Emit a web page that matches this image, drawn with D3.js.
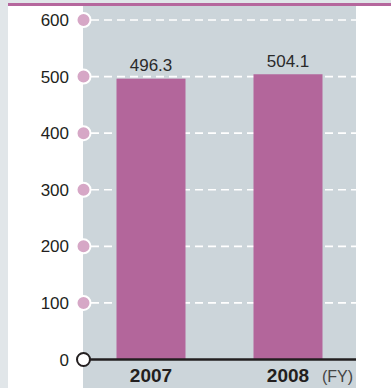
<!DOCTYPE html>
<html>
<head>
<meta charset="utf-8">
<script src="https://d3js.org/d3.v7.min.js"></script>
<style>
  body { margin: 0; background: #fff; }
  svg { display: block; font-family: "Liberation Sans", Arial, sans-serif; }
</style>
</head>
<body>
<svg width="391" height="388"></svg>
<script>
var years = ["2007", "2008"];
var sales = [496.3, 504.1];
var ticks = [0, 100, 200, 300, 400, 500, 600];

var svg = d3.select("svg");
var W = 391, H = 388;
var panelLeft = 83, panelRight = 356;

// frame: grey strips, magenta rule, grey plot panel
svg.append("rect").attr("width", W).attr("height", H).attr("fill", "#fff");
svg.append("rect").attr("width", 8).attr("height", H).attr("fill", "#e1e6e9");
svg.append("rect").attr("width", W).attr("height", 3).attr("fill", "#e1e6e9");
svg.append("rect").attr("x", 8).attr("y", 3).attr("width", W - 8).attr("height", 3).attr("fill", "#b5679d");
svg.append("rect").attr("x", panelLeft).attr("y", 6).attr("width", panelRight - panelLeft)
  .attr("height", H - 6).attr("fill", "#ccd5da");

var y = d3.scaleLinear().domain([0, 600]).range([359.5, 20]);
// bar centres
var xc = d3.scalePoint().domain(years).range([151, 288]);
var barW = 69;

// gridlines
svg.append("g").selectAll("line")
  .data(ticks.filter(function(d) { return d > 0; }))
  .enter().append("line")
  .attr("x1", panelLeft + 8).attr("x2", panelRight)
  .attr("y1", function(d) { return y(d); })
  .attr("y2", function(d) { return y(d); })
  .attr("stroke", "#fff").attr("stroke-width", 1.6)
  .attr("stroke-dasharray", "8,5");

// bars
svg.append("g").selectAll("rect")
  .data(sales)
  .enter().append("rect")
  .attr("x", function(d, i) { return xc(years[i]) - barW / 2; })
  .attr("y", function(d) { return y(d); })
  .attr("width", barW)
  .attr("height", function(d) { return y(0) - y(d); })
  .attr("fill", "#b3669b");

// value labels
svg.append("g").selectAll("text")
  .data(sales)
  .enter().append("text")
  .attr("x", function(d, i) { return xc(years[i]); })
  .attr("y", function(d) { return y(d) - 7.5; })
  .attr("text-anchor", "middle")
  .attr("font-size", 17)
  .attr("fill", "#2a2a2a")
  .text(function(d) { return d.toFixed(1); });

// baseline
svg.append("line")
  .attr("x1", panelLeft).attr("x2", panelRight)
  .attr("y1", y(0)).attr("y2", y(0))
  .attr("stroke", "#231f20").attr("stroke-width", 2.5);

// tick circles
svg.append("g").selectAll("circle")
  .data(ticks)
  .enter().append("circle")
  .attr("cx", panelLeft + 0.5)
  .attr("cy", function(d) { return y(d); })
  .attr("r", function(d) { return d === 0 ? 6.5 : 7; })
  .attr("fill", function(d) { return d === 0 ? "#fff" : "#d6a7c6"; })
  .attr("stroke", function(d) { return d === 0 ? "#231f20" : "#fff"; })
  .attr("stroke-width", 2);

// tick labels
svg.append("g").selectAll("text")
  .data(ticks)
  .enter().append("text")
  .attr("x", 69)
  .attr("y", function(d) { return y(d); })
  .attr("dy", "0.36em")
  .attr("text-anchor", "end")
  .attr("font-size", 17)
  .attr("fill", "#231f20")
  .text(function(d) { return d; });

// category labels
svg.append("g").selectAll("text")
  .data(years)
  .enter().append("text")
  .attr("x", function(d) { return xc(d); })
  .attr("y", 382)
  .attr("text-anchor", "middle")
  .attr("font-size", 19)
  .attr("font-weight", "bold")
  .attr("fill", "#231f20")
  .text(function(d) { return d; });

svg.append("text")
  .attr("x", 322).attr("y", 382)
  .attr("font-size", 16)
  .attr("fill", "#444")
  .text("(FY)");
</script>
</body>
</html>
